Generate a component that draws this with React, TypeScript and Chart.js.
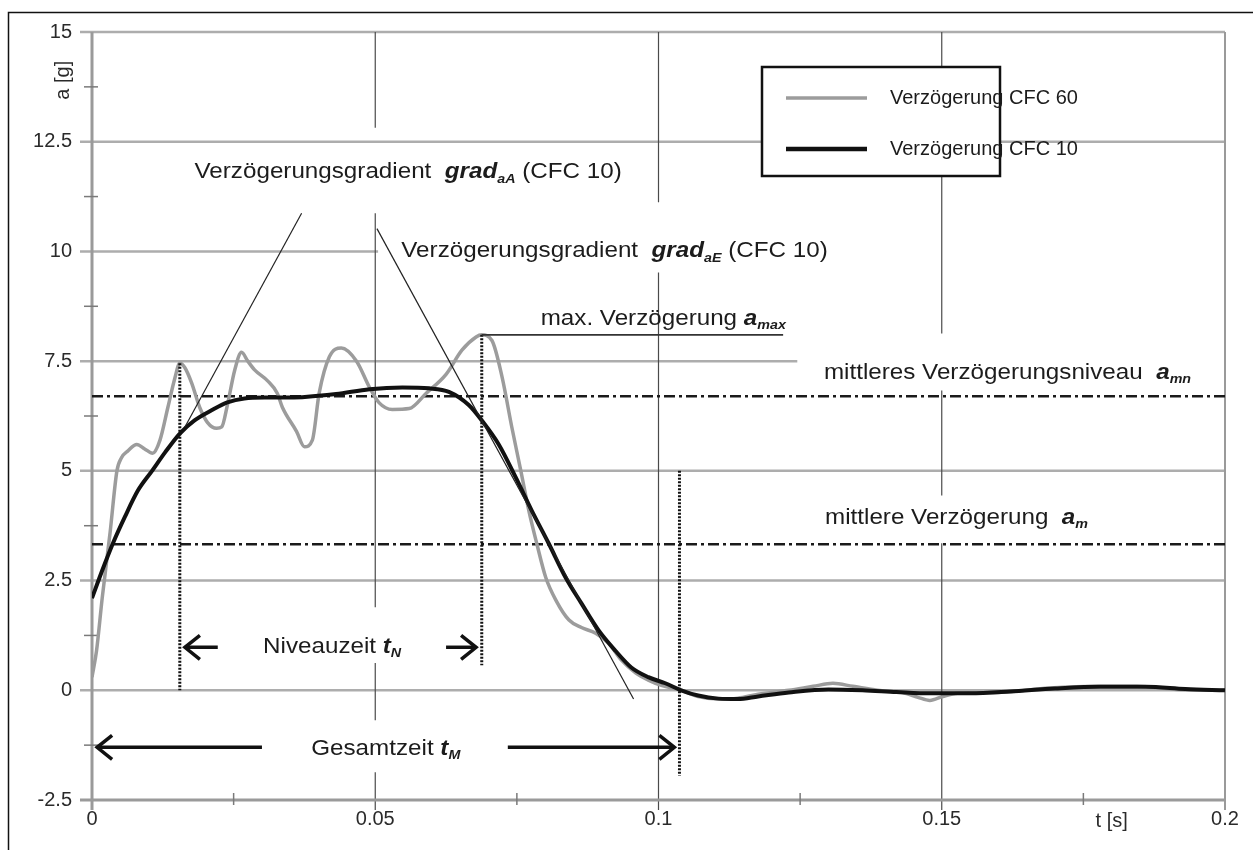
import React, { useEffect, useRef } from "react";
import { Chart, registerables } from "chart.js";
Chart.register(...registerables);

// ---------- data ----------
const cfc60T = [0, 0.0008, 0.0018, 0.0032, 0.0044, 0.0052, 0.0063, 0.0079, 0.0093, 0.0107, 0.012, 0.0134, 0.0146, 0.0155, 0.0164, 0.0176, 0.019, 0.0204, 0.022, 0.0229, 0.0239, 0.0252, 0.0264, 0.0275, 0.0287, 0.031, 0.0327, 0.0336, 0.0361, 0.0375, 0.0389, 0.0401, 0.0419, 0.044, 0.0467, 0.049, 0.0507, 0.053, 0.056, 0.059, 0.0625, 0.0653, 0.0678, 0.0688, 0.0706, 0.0724, 0.0741, 0.0757, 0.0771, 0.0785, 0.0801, 0.0819, 0.0842, 0.0864, 0.0889, 0.0912, 0.0935, 0.096, 0.0982, 0.1005, 0.104, 0.107, 0.1106, 0.114, 0.1176, 0.123, 0.1273, 0.1308, 0.1343, 0.1387, 0.1431, 0.1458, 0.1479, 0.1502, 0.1528, 0.16, 0.169, 0.1775, 0.1845, 0.1915, 0.2];
const cfc60A = [0.3, 0.9, 2.1, 3.6, 5.0, 5.3, 5.45, 5.6, 5.5, 5.4, 5.7, 6.45, 7.1, 7.45, 7.35, 7.0, 6.45, 6.1, 5.97, 6.0, 6.5, 7.3, 7.7, 7.5, 7.3, 7.05, 6.77, 6.45, 5.9, 5.55, 5.7, 6.77, 7.6, 7.8, 7.5, 6.9, 6.55, 6.4, 6.42, 6.77, 7.2, 7.75, 8.05, 8.1, 7.97, 7.13, 6.0, 5.0, 4.1, 3.35, 2.57, 2.05, 1.6, 1.43, 1.3, 1.07, 0.68, 0.39, 0.23, 0.11, 0, -0.14, -0.2, -0.18, -0.09, 0, 0.09, 0.16, 0.09, 0, -0.05, -0.16, -0.23, -0.14, -0.07, -0.05, 0.05, 0.09, 0.09, 0.02, 0];

const cfc10T = [0, 0.0018, 0.0037, 0.0058, 0.0081, 0.0106, 0.0129, 0.0155, 0.0181, 0.0211, 0.0239, 0.0269, 0.0305, 0.034, 0.0371, 0.0431, 0.049, 0.0548, 0.0595, 0.063, 0.0665, 0.0688, 0.0718, 0.0748, 0.0776, 0.0806, 0.0836, 0.0864, 0.0894, 0.0924, 0.0952, 0.0982, 0.1012, 0.104, 0.107, 0.1106, 0.114, 0.1176, 0.123, 0.13, 0.136, 0.142, 0.148, 0.155, 0.162, 0.17, 0.178, 0.186, 0.193, 0.2];
const cfc10A = [2.1, 2.73, 3.35, 3.95, 4.55, 5.0, 5.42, 5.85, 6.15, 6.38, 6.56, 6.65, 6.67, 6.67, 6.68, 6.75, 6.86, 6.9, 6.88, 6.8, 6.5, 6.15, 5.6, 4.85, 4.1, 3.35, 2.57, 1.98, 1.37, 0.9, 0.52, 0.3, 0.16, 0, -0.12, -0.19, -0.2, -0.14, -0.05, 0.02, 0.0, -0.04, -0.07, -0.07, -0.03, 0.04, 0.08, 0.08, 0.03, 0];

const seriesNames = ["Verzögerung CFC 60", "Verzögerung CFC 10"];

// construction lines
const gradAT = [0.0164, 0.037];
const gradAA = [6.0, 10.87];
const gradET = [0.0503, 0.0956];
const gradEA = [10.52, -0.2];
const aMaxT = [0.0688, 0.122];
const aMaxA = [8.1, 8.1];
const aLevelT = [0, 0.2];
const aLevelA = [6.7, 6.7];
const aMeanT = [0, 0.2];
const aMeanA = [3.33, 3.33];
const tStartT = [0.0155, 0.0155];
const tStartA = [7.45, 0];
const tEndT = [0.0688, 0.0688];
const tEndA = [8.1, 0.57];
const tTotalT = [0.1037, 0.1037];
const tTotalA = [5.0, -1.95];

// axes
const xTickValues = [0, 0.05, 0.1, 0.15, 0.2];
const xTickLabels = ["0", "0.05", "0.1", "0.15", "0.2"];
const yTickValues = [-2.5, 0, 2.5, 5, 7.5, 10, 12.5, 15];
const yTickLabels = ["-2.5", "0", "2.5", "5", "7.5", "10", "12.5", "15"];
const xMinorTicks = [0.025, 0.075, 0.125, 0.175];
const yMinorTicks = [-1.25, 1.25, 3.75, 6.25, 8.75, 11.25, 13.75];

// grid segments [value, from, to]
const hGrid: number[][] = [
  [15, 0, 0.2], [12.5, 0, 0.2], [10, 0, 0.0505], [7.5, 0, 0.1245],
  [5, 0, 0.2], [2.5, 0, 0.2], [0, 0, 0.2],
];
const vGrid: number[][] = [
  [0.05, 15, 12.82], [0.05, 10.87, 1.89], [0.05, 0.62, -0.68], [0.05, -1.87, -2.5],
  [0.1, 15, 11.12], [0.1, 9.52, -2.5],
  [0.15, 15, 14.2], [0.15, 11.7, 8.13], [0.15, 6.83, 4.44], [0.15, 3.35, -2.5],
];

type Part = { s: string; bi?: boolean; sub?: boolean };
const labels: { t: number; a: number; parts: Part[] }[] = [
  { t: 0.0181, a: 11.8, parts: [{ s: "Verzögerungsgradient  " }, { s: "grad", bi: true }, { s: "aA", bi: true, sub: true }, { s: " (CFC 10)" }] },
  { t: 0.0546, a: 10.0, parts: [{ s: "Verzögerungsgradient  " }, { s: "grad", bi: true }, { s: "aE", bi: true, sub: true }, { s: " (CFC 10)" }] },
  { t: 0.0792, a: 8.47, parts: [{ s: "max. Verzögerung " }, { s: "a", bi: true }, { s: "max", bi: true, sub: true }] },
  { t: 0.1292, a: 7.24, parts: [{ s: "mittleres Verzögerungsniveau  " }, { s: "a", bi: true }, { s: "mn", bi: true, sub: true }] },
  { t: 0.1294, a: 3.92, parts: [{ s: "mittlere Verzögerung  " }, { s: "a", bi: true }, { s: "m", bi: true, sub: true }] },
  { t: 0.0302, a: 0.98, parts: [{ s: "Niveauzeit " }, { s: "t", bi: true }, { s: "N", bi: true, sub: true }] },
  { t: 0.0387, a: -1.34, parts: [{ s: "Gesamtzeit " }, { s: "t", bi: true }, { s: "M", bi: true, sub: true }] },
];
// arrows [tailT, tipT, a]
const arrows: number[][] = [
  [0.0222, 0.0164, 0.98],
  [0.0625, 0.0678, 0.98],
  [0.0300, 0.0009, -1.3],
  [0.0734, 0.1028, -1.3],
];

const FONT = '"Liberation Sans", Arial, Helvetica, sans-serif';

const pts = (ts: number[], as: number[]) => ts.map((t, i) => ({ x: t, y: as[i] }));

function drawRich(ctx: CanvasRenderingContext2D, x: number, y: number, parts: Part[], size = 22, sx = 1.1) {
  ctx.save();
  ctx.translate(x, y);
  ctx.scale(sx, 1);
  let cx = 0;
  ctx.textAlign = "left";
  ctx.textBaseline = "middle";
  for (const p of parts) {
    const fs = p.sub ? Math.round(size * 0.6) : size;
    ctx.font = `${p.bi ? "italic bold " : ""}${fs}px ${FONT}`;
    ctx.fillText(p.s, cx, p.sub ? size * 0.3 : 0);
    cx += ctx.measureText(p.s).width;
  }
  ctx.restore();
}

const decoPlugin = {
  id: "deco",
  beforeDatasetsDraw(chart: any) {
    const { ctx, scales } = chart;
    const xs = scales.x, ys = scales.y;
    const px = (v: number) => xs.getPixelForValue(v);
    const py = (v: number) => ys.getPixelForValue(v);
    ctx.save();
    const seg = (x1: number, y1: number, x2: number, y2: number) => {
      ctx.beginPath(); ctx.moveTo(x1, y1); ctx.lineTo(x2, y2); ctx.stroke();
    };
    // horizontal grid
    ctx.strokeStyle = "#adadad";
    ctx.lineWidth = 2.5;
    for (const [a, t0, t1] of hGrid) seg(px(t0) - 12, py(a), px(t1), py(a));
    // vertical thin grid
    ctx.strokeStyle = "#4a4a4a";
    ctx.lineWidth = 1.2;
    for (const [t, a0, a1] of vGrid) seg(px(t), py(a0), px(t), py(a1) + (a1 === -2.5 ? 10 : 0));
    // right border line at 0.2
    ctx.strokeStyle = "#9a9a9a";
    ctx.lineWidth = 2;
    seg(px(0.2), py(15), px(0.2), py(-2.5) + 10);
    // axes
    ctx.lineWidth = 3;
    ctx.strokeStyle = "#9a9a9a";
    seg(px(0), py(15), px(0), py(-2.5) + 10);
    seg(px(0) - 12, py(-2.5), px(0.2), py(-2.5));
    // minor ticks
    ctx.lineWidth = 1.5;
    ctx.strokeStyle = "#7a7a7a";
    for (const v of yMinorTicks) seg(px(0) - 8, py(v), px(0) + 6, py(v));
    for (const v of xMinorTicks) seg(px(v), py(-2.5) - 7, px(v), py(-2.5) + 5);
    ctx.restore();
  },
  afterDatasetsDraw(chart: any) {
    const { ctx, scales } = chart;
    const xs = scales.x, ys = scales.y;
    const px = (v: number) => xs.getPixelForValue(v);
    const py = (v: number) => ys.getPixelForValue(v);
    ctx.save();
    ctx.fillStyle = "#1c1c1c";
    // annotation labels
    for (const l of labels) drawRich(ctx, px(l.t), py(l.a), l.parts);
    // arrows
    ctx.strokeStyle = "#111";
    ctx.lineWidth = 3.5;
    ctx.lineCap = "butt";
    for (const [t0, t1, a] of arrows) {
      const x0 = px(t0), x1 = px(t1), y = py(a);
      const dir = x1 > x0 ? 1 : -1;
      ctx.beginPath(); ctx.moveTo(x0, y); ctx.lineTo(x1, y); ctx.stroke();
      ctx.beginPath();
      ctx.moveTo(x1 - dir * 15, y - 12);
      ctx.lineTo(x1, y);
      ctx.lineTo(x1 - dir * 15, y + 12);
      ctx.stroke();
    }
    // tick labels
    ctx.fillStyle = "#2a2a2a";
    ctx.font = `20px ${FONT}`;
    ctx.textAlign = "right";
    ctx.textBaseline = "middle";
    yTickValues.forEach((v, i) => ctx.fillText(yTickLabels[i], px(0) - 20, py(v)));
    ctx.textAlign = "center";
    xTickValues.forEach((v, i) => ctx.fillText(xTickLabels[i], px(v), py(-2.5) + 19));
    // axis titles
    ctx.fillText("t [s]", px(0.18), py(-2.5) + 21);
    ctx.save();
    ctx.translate(px(0) - 29, py(13.9));
    ctx.rotate(-Math.PI / 2);
    ctx.fillText("a [g]", 0, 0);
    ctx.restore();
    // legend
    const lx = 762, ly = 67, lw = 238, lh = 109;
    ctx.fillStyle = "#fff";
    ctx.fillRect(lx, ly, lw, lh);
    ctx.strokeStyle = "#111";
    ctx.lineWidth = 2.5;
    ctx.strokeRect(lx, ly, lw, lh);
    const colors = ["#9c9c9c", "#111"];
    const widths = [3.5, 4.5];
    seriesNames.forEach((n, i) => {
      const yy = ly + 31 + i * 51;
      ctx.strokeStyle = colors[i];
      ctx.lineWidth = widths[i];
      ctx.beginPath(); ctx.moveTo(lx + 24, yy); ctx.lineTo(lx + 105, yy); ctx.stroke();
      ctx.fillStyle = "#1c1c1c";
      ctx.font = `20px ${FONT}`;
      ctx.textAlign = "left";
      ctx.textBaseline = "middle";
      ctx.fillText(n, lx + 128, yy);
    });
    // outer frame
    ctx.strokeStyle = "#111";
    ctx.lineWidth = 1.5;
    ctx.beginPath();
    ctx.moveTo(8.5, 850); ctx.lineTo(8.5, 12.5); ctx.lineTo(1253, 12.5);
    ctx.stroke();
    ctx.restore();
  },
};

export default function App() {
  const ref = useRef<HTMLCanvasElement>(null);
  useEffect(() => {
    const base = { pointRadius: 0, pointHoverRadius: 0, fill: false, spanGaps: true };
    const chart = new Chart(ref.current as HTMLCanvasElement, {
      type: "line",
      data: {
        datasets: [
          { ...base, label: seriesNames[1], data: pts(cfc10T, cfc10A), borderColor: "#111", borderWidth: 4, cubicInterpolationMode: "monotone", order: 1 },
          { ...base, label: seriesNames[0], data: pts(cfc60T, cfc60A), borderColor: "#9c9c9c", borderWidth: 3.5, cubicInterpolationMode: "monotone", order: 2 },
          { ...base, label: "gradA", data: pts(gradAT, gradAA), borderColor: "#222", borderWidth: 1.2, order: 0 },
          { ...base, label: "gradE", data: pts(gradET, gradEA), borderColor: "#222", borderWidth: 1.2, order: 0 },
          { ...base, label: "amax", data: pts(aMaxT, aMaxA), borderColor: "#333", borderWidth: 1.8, order: 0 },
          { ...base, label: "amn", data: pts(aLevelT, aLevelA), borderColor: "#1a1a1a", borderWidth: 2.5, borderDash: [11, 4, 3, 4], order: 3 },
          { ...base, label: "am", data: pts(aMeanT, aMeanA), borderColor: "#1a1a1a", borderWidth: 2.5, borderDash: [11, 4, 3, 4], order: 3 },
          { ...base, label: "tN0", data: pts(tStartT, tStartA), borderColor: "#111", borderWidth: 3, borderDash: [2, 1.5], order: 0 },
          { ...base, label: "tN1", data: pts(tEndT, tEndA), borderColor: "#111", borderWidth: 3, borderDash: [2, 1.5], order: 0 },
          { ...base, label: "tM", data: pts(tTotalT, tTotalA), borderColor: "#111", borderWidth: 3, borderDash: [2, 1.5], order: 0 },
        ] as any,
      },
      options: {
        responsive: false,
        animation: false,
        devicePixelRatio: 1,
        events: [],
        layout: { padding: { top: 32, right: 28, left: 0, bottom: 0 } },
        scales: {
          x: {
            type: "linear", min: 0, max: 0.2,
            grid: { display: false }, border: { display: false }, ticks: { display: false },
            afterFit: (s: any) => { s.height = 50; },
          },
          y: {
            type: "linear", min: -2.5, max: 15,
            grid: { display: false }, border: { display: false }, ticks: { display: false },
            afterFit: (s: any) => { s.width = 92; },
          },
        },
        plugins: { legend: { display: false }, tooltip: { enabled: false } },
      } as any,
      plugins: [decoPlugin],
    });
    return () => chart.destroy();
  }, []);
  return (
    <div style={{ position: "absolute", left: 0, top: 0, width: 1253, height: 850, background: "#fff" }}>
      <canvas ref={ref} width={1253} height={850} style={{ display: "block" }} />
    </div>
  );
}
